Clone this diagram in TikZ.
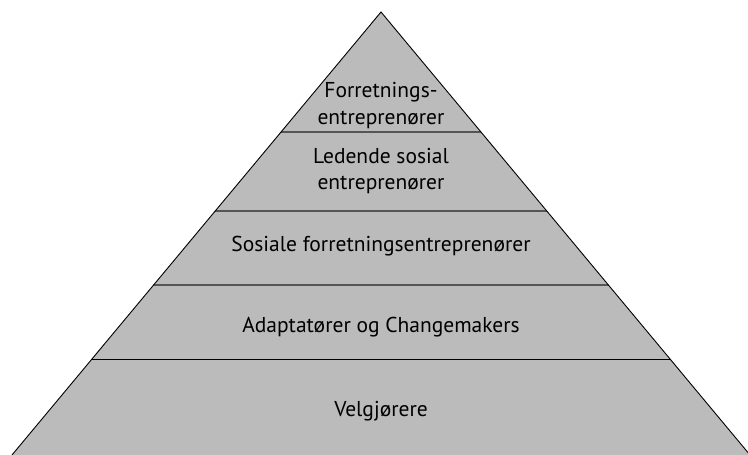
\documentclass[tikz,border=0pt]{standalone}
\usepackage{fontspec}
\setmainfont{PT Sans}
\definecolor{pyrfill}{RGB}{187,187,187}
\definecolor{sepline}{RGB}{85,85,85}
\tikzset{
  lbl/.style={align=center, font=\fontsize{21.5}{26.5}\selectfont, text=black, inner sep=0pt},
  sep/.style={draw=sepline, line width=1.3pt},
}
\begin{document}
\begin{tikzpicture}[x=1pt,y=1pt]
\useasboundingbox (0,0) rectangle (748,455);
\coordinate (apex) at (381,443);
\coordinate (bl) at (12,0);
\coordinate (br) at (750,0);
\begin{scope}
\clip (0,0) rectangle (748,455);
\fill[pyrfill] (bl) -- (apex) -- (br) -- cycle;
\begin{scope}
\clip (bl) -- (apex) -- (br) -- cycle;
\draw[sep] (0,323) -- (748,323);
\draw[sep] (0,244) -- (748,244);
\draw[sep] (0,170) -- (748,170);
\draw[black, line width=1pt] (0,95) -- (748,95);
\end{scope}
\draw[black, line width=0.9pt] (bl) -- (apex) -- (br);
\end{scope}
\node[lbl] (l1) at (381,349.5) {Forretnings-\\entreprenører};
\node[lbl] (l2) at (381,284) {Ledende sosial\\entreprenører};
\node[lbl, anchor=base] (l3) at (381,203.5) {Sosiale forretningsentreprenører};
\node[lbl, anchor=base] (l4) at (381,122.5) {Adaptatører og Changemakers};
\node[lbl, anchor=base] (l5) at (381,38.5) {Velgjørere};
\end{tikzpicture}
\end{document}
